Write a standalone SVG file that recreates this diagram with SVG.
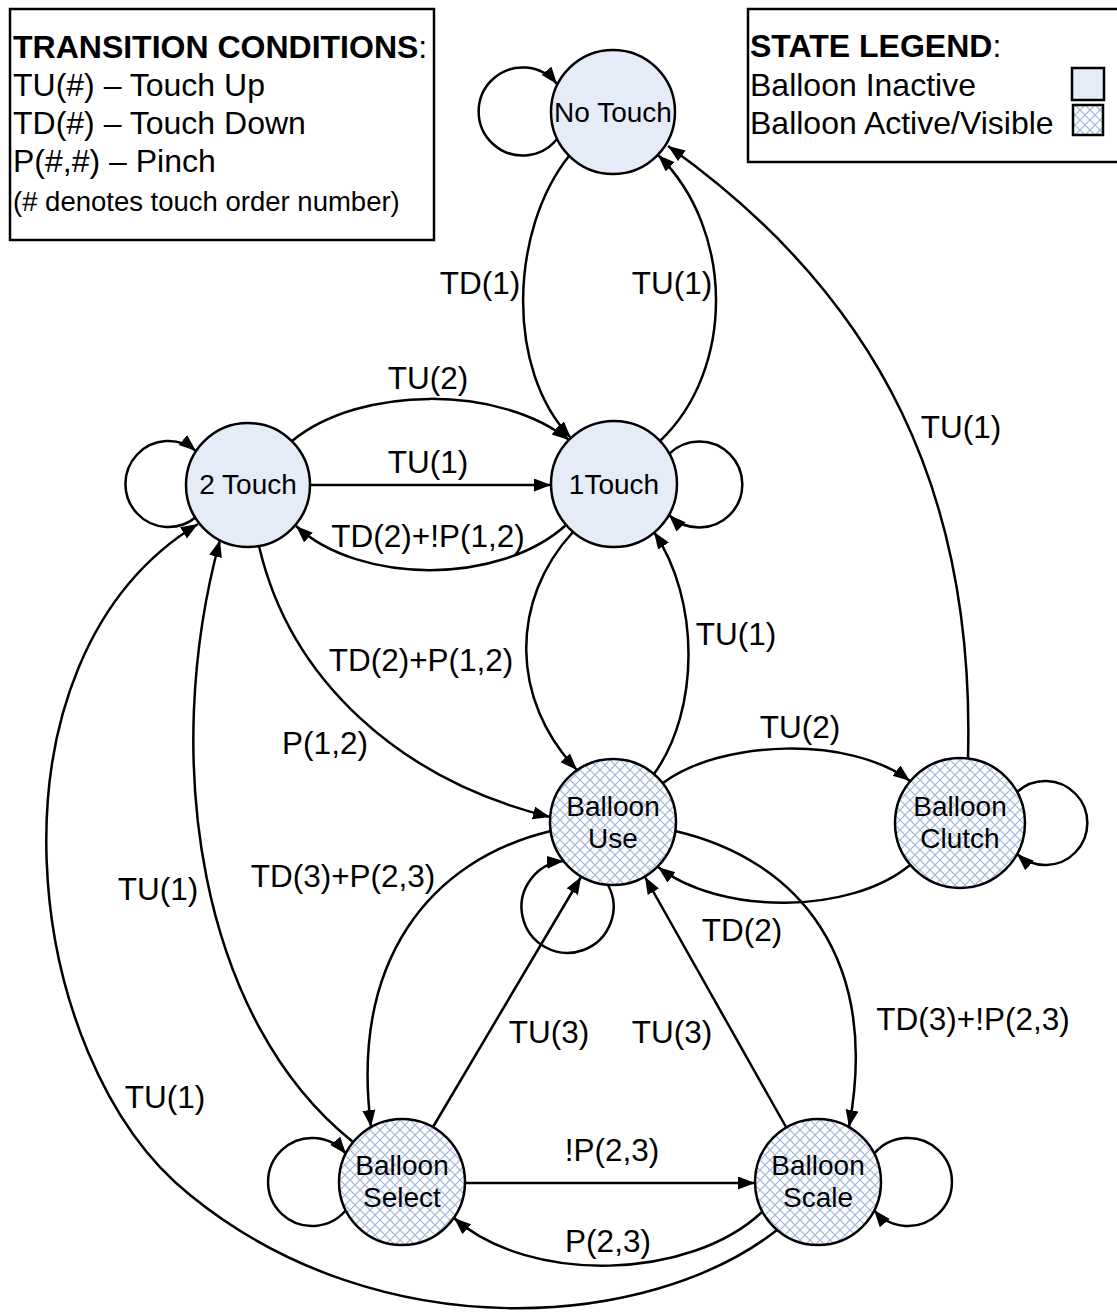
<svg xmlns="http://www.w3.org/2000/svg" width="1117" height="1314" viewBox="0 0 1117 1314">
<style>
text{font-family:"Liberation Sans",Arial,sans-serif;fill:#000}
.lbl{font-size:31.5px;text-anchor:middle}
.nt{font-size:28px;text-anchor:middle}
.lg{font-size:32px}
.e{fill:none;stroke:#000;stroke-width:2.5;marker-end:url(#ah)}
.n1{fill:#E6ECF7;stroke:#000;stroke-width:2.5}
.n2{fill:url(#hatch);stroke:#000;stroke-width:2.5}
.box{fill:#fff;stroke:#000;stroke-width:2.5}
</style>
<defs>
<marker id="ah" markerUnits="userSpaceOnUse" markerWidth="20" markerHeight="14" refX="17" refY="6.5" orient="auto">
<path d="M0,0 L17,6.5 L0,13 z" fill="#000"/>
</marker>
<pattern id="hatch" patternUnits="userSpaceOnUse" width="10" height="10">
<rect width="10" height="10" fill="#fff"/>
<path d="M0,0 L10,10 M10,0 L0,10" stroke="#9EB4DE" stroke-width="1.2"/>
</pattern>
</defs>
<rect width="1117" height="1314" fill="#fff"/>

<g id="legend-transitions">
<rect class="box" x="10" y="9" width="424" height="231"/>
<text class="lg" x="13" y="58" font-size="31"><tspan font-weight="bold">TRANSITION CONDITIONS</tspan>:</text>
<text class="lg" x="13" y="96">TU(#) – Touch Up</text>
<text class="lg" x="13" y="134">TD(#) – Touch Down</text>
<text class="lg" x="13" y="172">P(#,#) – Pinch</text>
<text x="13" y="211" font-size="27.5">(# denotes touch order number)</text>
</g>
<g id="legend-states">
<rect class="box" x="748" y="9" width="380" height="153"/>
<text class="lg" x="750" y="57"><tspan font-weight="bold">STATE LEGEND</tspan>:</text>
<text class="lg" x="750" y="96">Balloon Inactive</text>
<text class="lg" x="750" y="134">Balloon Active/Visible</text>
<rect class="n1" x="1072" y="68" width="32" height="32"/>
<rect class="n2" x="1073" y="105" width="30" height="30"/>
</g>

<g id="connectors">
<path class="e" d="M557,139 A44,44 0 1 1 557,84"/>
<path class="e" d="M569,156 C510,230 505,370 571,438"/>
<path class="e" d="M660,441 C735,370 735,230 658,155"/>
<path class="e" d="M968,758 C975,500 885,300 668,146"/>
<path class="e" d="M1017,792 A42,42 0 1 1 1017,854"/>
<path class="e" d="M669,454 A43,43 0 1 1 669,515"/>
<path class="e" d="M196,517 A43,43 0 1 1 196,451"/>
<path class="e" d="M292,441 C360,385 500,385 569,440"/>
<path class="e" d="M310,485 L551,485"/>
<path class="e" d="M566,525 C500,585 360,585 296,526"/>
<path class="e" d="M259,546 C290,680 400,780 550,817"/>
<path class="e" d="M573,532 C510,600 510,700 577,770"/>
<path class="e" d="M654,774 C700,710 700,600 654,532"/>
<path class="e" d="M663,783 C720,740 850,735 910,781"/>
<path class="e" d="M910,865 C850,915 720,915 658,867"/>
<path class="e" d="M608,885 A46,46 0 1 1 564,861"/>
<path class="e" d="M551,831 C430,860 350,960 371,1127"/>
<path class="e" d="M675,831 C800,860 880,960 849,1127"/>
<path class="e" d="M433,1127 L581,877"/>
<path class="e" d="M786,1127 L645,877"/>
<path class="e" d="M465,1183 L755,1183"/>
<path class="e" d="M762,1212 C690,1280 530,1285 454,1218"/>
<path class="e" d="M777,1230 C650,1330 380,1350 190,1195 C20,1060 -25,660 198,524"/>
<path class="e" d="M353,1142 C200,1020 160,760 220,540"/>
<path class="e" d="M346,1210 A44,44 0 1 1 346,1154"/>
<path class="e" d="M874,1154 A44,44 0 1 1 874,1210"/>
</g>

<g id="edge-labels">
<text class="lbl" x="480" y="294">TD(1)</text>
<text class="lbl" x="672" y="294">TU(1)</text>
<text class="lbl" x="961" y="438">TU(1)</text>
<text class="lbl" x="428" y="389">TU(2)</text>
<text class="lbl" x="428" y="473">TU(1)</text>
<text class="lbl" x="428" y="547">TD(2)+!P(1,2)</text>
<text class="lbl" x="421" y="671">TD(2)+P(1,2)</text>
<text class="lbl" x="736" y="645">TU(1)</text>
<text class="lbl" x="325" y="754">P(1,2)</text>
<text class="lbl" x="800" y="738">TU(2)</text>
<text class="lbl" x="343" y="887">TD(3)+P(2,3)</text>
<text class="lbl" x="158" y="900">TU(1)</text>
<text class="lbl" x="742" y="941">TD(2)</text>
<text class="lbl" x="973" y="1030">TD(3)+!P(2,3)</text>
<text class="lbl" x="549" y="1043">TU(3)</text>
<text class="lbl" x="672" y="1043">TU(3)</text>
<text class="lbl" x="165" y="1108">TU(1)</text>
<text class="lbl" x="612" y="1161">!P(2,3)</text>
<text class="lbl" x="608" y="1252">P(2,3)</text>
</g>

<g id="node-no-touch"><circle class="n1" cx="613" cy="112" r="62"/><text class="nt" x="613" y="122">No Touch</text></g>
<g id="node-1touch"><circle class="n1" cx="614" cy="484" r="63"/><text class="nt" x="614" y="494">1Touch</text></g>
<g id="node-2touch"><circle class="n1" cx="248" cy="485" r="62"/><text class="nt" x="248" y="494">2 Touch</text></g>
<g id="node-balloon-use"><circle class="n2" cx="613" cy="822" r="63"/><text class="nt" x="613" y="816">Balloon</text><text class="nt" x="613" y="848">Use</text></g>
<g id="node-balloon-clutch"><circle class="n2" cx="960" cy="823" r="65"/><text class="nt" x="960" y="816">Balloon</text><text class="nt" x="960" y="848">Clutch</text></g>
<g id="node-balloon-select"><circle class="n2" cx="402" cy="1182" r="63"/><text class="nt" x="402" y="1175">Balloon</text><text class="nt" x="402" y="1207">Select</text></g>
<g id="node-balloon-scale"><circle class="n2" cx="818" cy="1182" r="63"/><text class="nt" x="818" y="1175">Balloon</text><text class="nt" x="818" y="1207">Scale</text></g>
</svg>
